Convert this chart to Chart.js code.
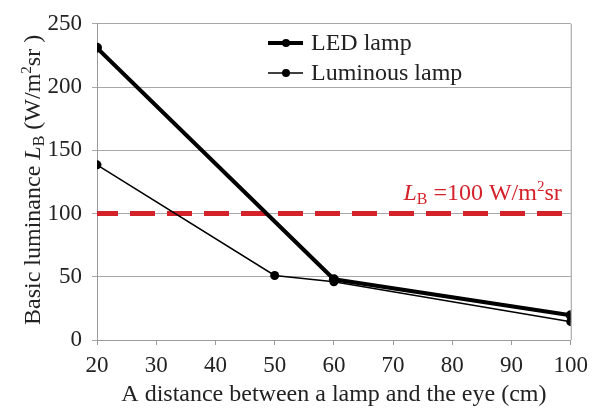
<!DOCTYPE html>
<html>
<head>
<meta charset="utf-8">
<script src="https://cdn.jsdelivr.net/npm/chart.js@4/dist/chart.umd.min.js"></script>
<style>
html,body{margin:0;padding:0;background:#fff;}
#wrap{width:595px;height:408px;}
</style>
</head>
<body>
<div id="wrap"><canvas id="c" width="595" height="408"></canvas></div>
<script>
// ---- data ----
const distances = [20, 50, 60, 100];
const ledLamp = [231, null, 48, 19.5];
const luminousLamp = [138.5, 51, 46, 14.5];
const limitValue = 100;
const xTicks = [20, 30, 40, 50, 60, 70, 80, 90, 100];
const yTicks = [0, 50, 100, 150, 200, 250];
const seriesNames = ['LED lamp', 'Luminous lamp'];

const SERIF = '"Liberation Serif", "Times New Roman", serif';
const TEXT = '#222';
const RED = '#d3222a';

function pts(vals){ return distances.map((d,i)=>({x:d, y:vals[i]})); }

function drawRich(ctx, segs, x, y, align){
  let w = 0;
  segs.forEach(s=>{ ctx.font=(s.italic?'italic ':'')+s.size+'px '+SERIF; s.w=ctx.measureText(s.t).width; w+=s.w; });
  let cx = align==='right' ? x-w : (align==='center' ? x-w/2 : x);
  ctx.textAlign='left'; ctx.textBaseline='alphabetic';
  segs.forEach(s=>{ ctx.font=(s.italic?'italic ':'')+s.size+'px '+SERIF; ctx.fillText(s.t, cx, y+(s.dy||0)); cx+=s.w; });
}

const extras = {
  id:'extras',
  afterDraw(chart){
    const ctx = chart.ctx, a = chart.chartArea;
    const ys = chart.scales.y;
    ctx.save();
    // right border
    ctx.strokeStyle='#9a9a9a'; ctx.lineWidth=1;
    ctx.beginPath(); ctx.moveTo(a.right+0.5, a.top); ctx.lineTo(a.right+0.5, a.bottom); ctx.stroke();
    // y title
    ctx.save();
    ctx.translate(40, (a.top+a.bottom)/2 - 2);
    ctx.rotate(-Math.PI/2);
    ctx.fillStyle=TEXT;
    drawRich(ctx, [
      {t:'Basic luminance ', size:24},
      {t:'L', size:24, italic:true},
      {t:'B', size:16, dy:4},
      {t:' (W/m', size:24},
      {t:'2', size:15, dy:-9},
      {t:'sr )', size:24}
    ], 0, 0, 'center');
    ctx.restore();
    // red label
    ctx.fillStyle=RED;
    drawRich(ctx, [
      {t:'L', size:24, italic:true},
      {t:'B', size:16, dy:4},
      {t:' =100 W/m', size:24},
      {t:'2', size:15, dy:-9},
      {t:'sr', size:24}
    ], a.right-9, ys.getPixelForValue(limitValue)-14, 'right');
    // legend
    const ds = chart.data.datasets;
    const rows = [{i:0, y:43}, {i:1, y:73}];
    rows.forEach(r=>{
      const d = ds[r.i];
      ctx.strokeStyle=d.borderColor; ctx.lineWidth=d.borderWidth;
      ctx.beginPath(); ctx.moveTo(268, r.y); ctx.lineTo(303, r.y); ctx.stroke();
      ctx.fillStyle=d.pointBackgroundColor;
      ctx.beginPath(); ctx.arc(286, r.y, 4, 0, Math.PI*2); ctx.fill();
      ctx.fillStyle=TEXT; ctx.font='24px '+SERIF; ctx.textBaseline='middle'; ctx.textAlign='left';
      ctx.fillText(d.label, 311, r.y+1);
    });
    ctx.restore();
  }
};

new Chart(document.getElementById('c'), {
  type:'line',
  data:{
    datasets:[
      {label:seriesNames[0], data:pts(ledLamp), borderColor:'#000', backgroundColor:'#000', pointBackgroundColor:'#000',
       borderWidth:4, pointRadius:5, pointBorderWidth:0, spanGaps:true, tension:0, order:1},
      {label:seriesNames[1], data:pts(luminousLamp), borderColor:'#000', backgroundColor:'#000', pointBackgroundColor:'#000',
       borderWidth:1.5, pointRadius:4.5, pointBorderWidth:0, spanGaps:true, tension:0, order:2},
      {label:'limit', data:[{x:distances[0], y:limitValue},{x:distances[distances.length-1], y:limitValue}],
       borderColor:RED, borderWidth:5, borderDash:[25,12], borderDashOffset:4, pointRadius:0, order:3}
    ]
  },
  options:{
    responsive:false, animation:false,
    layout:{padding:{top:20, right:20, bottom:0, left:0}},
    plugins:{legend:{display:false}, tooltip:{enabled:false}},
    scales:{
      x:{type:'linear', min:20, max:100,
        afterBuildTicks(s){ s.ticks = xTicks.map(v=>({value:v})); },
        afterFit(s){ s.height = 68; },
        grid:{drawOnChartArea:false, drawTicks:true, tickLength:5, color:'#9a9a9a'},
        border:{color:'#9a9a9a'},
        ticks:{color:TEXT, font:{family:SERIF, size:23}, padding:7, maxRotation:0, autoSkip:false},
        title:{display:true, text:'A distance between a lamp and the eye (cm)', color:TEXT,
          font:{family:SERIF, size:24, lineHeight:1}, padding:{top:0, bottom:1}}
      },
      y:{min:0, max:250,
        afterBuildTicks(s){ s.ticks = yTicks.map(v=>({value:v})); },
        afterFit(s){ s.width = 97; },
        grid:{color:'#a8a8a8', tickLength:5, lineWidth:1},
        border:{color:'#9a9a9a'},
        ticks:{color:TEXT, font:{family:SERIF, size:23}, padding:10}
      }
    }
  },
  plugins:[extras]
});
</script>
</body>
</html>
